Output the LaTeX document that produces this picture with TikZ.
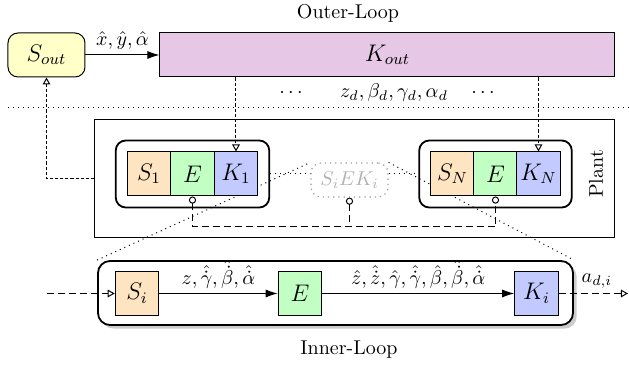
\documentclass[tikz,border=0pt]{standalone}
\usetikzlibrary{arrows.meta,shadows,fit,backgrounds}

\definecolor{soutfill}{RGB}{255,255,200}
\definecolor{koutfill}{RGB}{230,200,230}
\definecolor{sfill}{RGB}{255,228,194}
\definecolor{efill}{RGB}{194,255,194}
\definecolor{kfill}{RGB}{194,202,255}

\begin{document}
\begin{tikzpicture}[x=0.5pt,y=-0.5pt,
  blk/.style={draw, line width=0.5pt, minimum width=21.75pt, minimum height=22pt,
              inner sep=0pt, font=\large},
  sblk/.style={blk, fill=sfill},
  eblk/.style={blk, fill=efill},
  kblk/.style={blk, fill=kfill},
  grp/.style={draw, line width=0.9pt, rounded corners=5pt, inner sep=5.5pt},
  sig/.style={-{Latex[length=6pt,width=4pt]}, line width=0.5pt},
  finedash/.style={dash pattern=on 1.6pt off 1pt, line width=0.5pt},
  opentip/.style={-{Triangle[open,length=3.5pt,width=3.8pt]}},
  bus/.style={dash pattern=on 3.5pt off 2pt, line width=0.5pt},
  ring/.tip={Circle[open,length=3.6pt]},
  sep/.style={dotted, line width=0.5pt},
]
\useasboundingbox (0,0) rectangle (629,368);

% ---------- outer loop ----------
\node at (348,13) {Outer-Loop};
\node[draw, line width=0.5pt, fill=soutfill, rounded corners=5pt, font=\large,
      minimum width=38.5pt, minimum height=22pt] (sout) at (46.5,55) {$S_{out}$};
\node[draw, line width=0.5pt, fill=koutfill, font=\large,
      minimum width=227.5pt, minimum height=22pt] (kout) at (387.5,55) {$K_{out}$};
\draw[sig] (sout) -- node[above, yshift=-1pt] {$\hat{x},\hat{y},\hat{\alpha}$} (kout);

\node at (291,93) {$\cdots$};
\node at (394,93) {$z_d,\beta_d,\gamma_d,\alpha_d$};
\node at (483,93) {$\cdots$};

\coordinate (sepL) at (8,108);
\coordinate (sepR) at (629,108);
\draw[sep] (sepL) -- (sepR);

% ---------- plant ----------
\node[draw, line width=0.5pt, minimum width=260pt, minimum height=59pt] (plant) at (355,179) {};
\node[rotate=90] at (596,174) {Plant};

\node[sblk] (S1) at (149,174) {$S_1$};
\node[eblk] (E1) at (192.5,174) {$E$};
\node[kblk] (K1) at (236,174) {$K_1$};
\node[grp, fit=(S1)(K1)] (g1) {};

\node[sblk] (SN) at (452.5,174) {$S_N$};
\node[eblk] (EN) at (495.5,174) {$E$};
\node[kblk] (KN) at (538.5,174) {$K_N$};
\node[grp, fit=(SN)(KN)] (gN) {};

\node[draw=gray!80, dotted, line width=0.6pt, rounded corners=5pt, text=gray!60,
      minimum width=38.5pt, minimum height=17pt] (siek) at (349.5,180) {$S_iEK_i$};

% commands from the outer controller
\draw[finedash, opentip] (kout.south -| K1) -- (K1.north);
\draw[finedash, opentip] (kout.south -| KN) -- (KN.north);
% feedback to the outer estimator
\draw[finedash, opentip] (plant.west) -| (sout.south);

% shared bus between the agents
\coordinate (bus) at (349.5,227);
\draw[bus, {ring}-{ring}] (E1.south) -- (E1.south |- bus) -- (EN.south |- bus) -- (EN.south);
\draw[bus, {ring}-] (siek.south) -- (siek.south |- bus);

% ---------- inner loop ----------
\node[draw, line width=0.9pt, fill=white, rounded corners=6pt,
      drop shadow={shadow xshift=1.8pt, shadow yshift=-1.8pt, opacity=0.4},
      minimum width=237.5pt, minimum height=32pt] (inner) at (335.5,293) {};

\begin{scope}[on background layer]
  \draw[sep] (g1.east) -- (siek.west |- g1.east);
  \draw[sep] (siek.east |- gN.west) -- (gN.west);
  \draw[sep] (inner.north west) -- (siek.north west);
  \draw[sep] (siek.north east) -- (inner.north east);
\end{scope}

\node[sblk] (Si) at (137,293.5) {$S_i$};
\node[eblk] (Ei) at (300,293.5) {$E$};
\node[kblk] (Ki) at (536.5,293.5) {$K_i$};

\coordinate (inL) at (47,293.5);
\coordinate (outR) at (628,293.5);
\draw[bus, opentip] (inL) -- (Si);
\draw[sig] (Si) -- node[above, yshift=-1pt] {$z,\hat{\dot{\gamma}},\hat{\dot{\beta}},\hat{\dot{\alpha}}$} (Ei);
\draw[sig] (Ei) -- node[above, yshift=-1pt] {$\hat{z},\hat{\dot{z}},\hat{\gamma},\hat{\dot{\gamma}},\hat{\beta},\hat{\dot{\beta}},\hat{\dot{\alpha}}$} (Ki);
\draw[bus, opentip] (Ki) -- node[pos=0.55, above, yshift=-1pt] {$a_{d,i}$} (outR);

\node at (349,350) {Inner-Loop};
\end{tikzpicture}
\end{document}
